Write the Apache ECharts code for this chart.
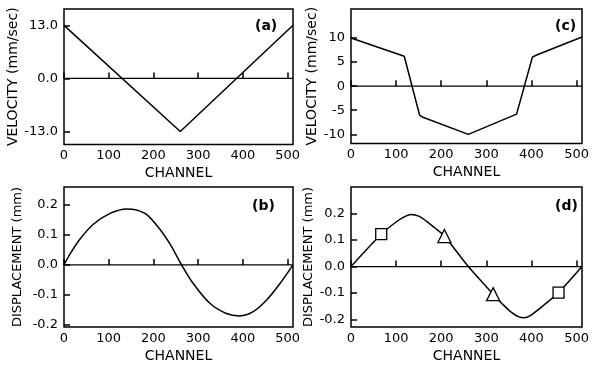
<!DOCTYPE html>
<html>
<head>
<meta charset="utf-8">
<script src="https://cdn.jsdelivr.net/npm/echarts@6/dist/echarts.min.js"></script>
<style>
html,body{margin:0;padding:0;background:#fff;}
#chart{width:592px;height:367px;}
</style>
</head>
<body>
<div id="chart"></div>
<script>
// ---- data ----
var channelTicks = [0, 100, 200, 300, 400, 500];
var zeroChannel = [0, 512];
var zeroValue   = [0, 0];

// (a) velocity, triangular
var aChannel  = [0, 260, 512];
var aVelocity = [13, -13, 13];
var aTicks    = [-13, 0, 13];

// (b) displacement
var bChannel = [0, 15, 35, 65, 103, 140, 160, 185, 214, 237, 263, 289, 326, 363, 393, 423, 453, 483, 512];
var bDisp    = [0, 0.04, 0.085, 0.135, 0.172, 0.187, 0.184, 0.168, 0.12, 0.07, 0, -0.062, -0.128, -0.162, -0.17, -0.156, -0.117, -0.062, 0];
var bTicks   = [-0.2, -0.1, 0, 0.1, 0.2];

// (c) velocity, piecewise
var cChannel  = [0, 118, 152, 158, 260, 367, 402, 410, 512];
var cVelocity = [10, 6.2, -6.0, -6.4, -10, -5.8, 6.0, 6.4, 10.2];
var cTicks    = [-10, -5, 0, 5, 10];

// (d) displacement with markers
var dChannel = [0, 67, 100, 120, 133, 150, 172, 190, 207, 260, 315, 335, 355, 372, 385, 400, 430, 460, 512];
var dDisp    = [0, 0.122, 0.168, 0.189, 0.196, 0.19, 0.165, 0.14, 0.115, 0, -0.104, -0.14, -0.172, -0.19, -0.193, -0.182, -0.142, -0.098, 0];
var dTicks   = [-0.2, -0.1, 0, 0.1, 0.2];
var dSquareChannel = [67, 460];
var dSquareDisp    = [0.122, -0.098];
var dTriChannel    = [207, 315];
var dTriDisp       = [0.115, -0.104];

var panelLabels = ['(a)', '(b)', '(c)', '(d)'];

function zip(xs, ys) { return xs.map(function (x, i) { return [x, ys[i]]; }); }

var FONT = 'DejaVu Sans';
var grids = [
  {left: 64, top: 9, width: 229, height: 135.5},
  {left: 64, top: 187, width: 229, height: 140},
  {left: 351, top: 9, width: 232, height: 134.5},
  {left: 351, top: 187, width: 232, height: 140}
];
grids.forEach(function (g) {
  g.show = true; g.borderColor = '#000'; g.borderWidth = 1.5; g.backgroundColor = 'transparent';
});

function xAxis(i) {
  return {
    type: 'value', gridIndex: i, min: 0, max: 512,
    name: 'CHANNEL', nameLocation: 'middle', nameGap: 22,
    nameTextStyle: {fontFamily: FONT, fontSize: 14, color: '#000'},
    axisLine: {show: false},
    axisTick: {show: true, inside: true, length: 6, customValues: channelTicks, lineStyle: {color: '#000', width: 1.5}},
    axisLabel: {show: true, customValues: channelTicks, margin: 5, fontFamily: FONT, fontSize: 13, color: '#000'},
    splitLine: {show: false}
  };
}
function yAxis(i, name, min, max, ticks, dec, gap, fs) {
  return {
    type: 'value', gridIndex: i, min: min, max: max,
    name: name, nameLocation: 'middle', nameGap: gap,
    nameTextStyle: {fontFamily: FONT, fontSize: fs, color: '#000'},
    axisLine: {show: false},
    axisTick: {show: true, inside: true, length: 6, customValues: ticks, lineStyle: {color: '#000', width: 1.5}},
    axisLabel: {show: true, customValues: ticks, margin: 6, fontFamily: FONT, fontSize: 13, color: '#000',
      formatter: function (v) { return v.toFixed(dec); }},
    splitLine: {show: false}
  };
}

function lineSeries(i, data, smooth, width) {
  return {
    type: 'line', xAxisIndex: i, yAxisIndex: i, data: data,
    smooth: smooth, showSymbol: false, symbol: 'none', silent: true,
    lineStyle: {color: '#000', width: width}, animation: false
  };
}

var labelPos = [
  {left: 255, top: 19}, {left: 252, top: 199}, {left: 555, top: 19}, {left: 555, top: 199}
];

var series = [];
[0, 1, 2, 3].forEach(function (i) {
  series.push(lineSeries(i, zip(zeroChannel, zeroValue), false, 1.2));
});
series.push(lineSeries(0, zip(aChannel, aVelocity), false, 1.5));
series.push(lineSeries(1, zip(bChannel, bDisp), 0.3, 1.5));
series.push(lineSeries(2, zip(cChannel, cVelocity), false, 1.5));
series.push(lineSeries(3, zip(dChannel, dDisp), 0.3, 1.5));
series.push({type: 'scatter', xAxisIndex: 3, yAxisIndex: 3, data: zip(dSquareChannel, dSquareDisp),
  symbol: 'rect', symbolSize: 11, z: 10,
  itemStyle: {color: '#fff', borderColor: '#000', borderWidth: 1.3, opacity: 1}});
series.push({type: 'scatter', xAxisIndex: 3, yAxisIndex: 3, data: zip(dTriChannel, dTriDisp),
  symbol: 'triangle', symbolSize: 13, z: 10,
  itemStyle: {color: '#fff', borderColor: '#000', borderWidth: 1.3, opacity: 1}});

var option = {
  backgroundColor: '#fff',
  animation: false,
  title: panelLabels.map(function (t, i) {
    return {text: t, left: labelPos[i].left, top: labelPos[i].top, padding: 0,
      textStyle: {fontFamily: FONT, fontSize: 14, fontWeight: 'bold', color: '#000'}};
  }),
  grid: grids,
  xAxis: [xAxis(0), xAxis(1), xAxis(2), xAxis(3)],
  yAxis: [
    yAxis(0, 'VELOCITY (mm/sec)', -16.2, 17, aTicks, 1, 40, 14),
    yAxis(1, 'DISPLACEMENT (mm)', -0.207, 0.26, bTicks, 1, 40, 13),
    yAxis(2, 'VELOCITY (mm/sec)', -11.9, 16, cTicks, 0, 32, 14),
    yAxis(3, 'DISPLACEMENT (mm)', -0.228, 0.3, dTicks, 1, 36, 13)
  ],
  series: series
};

var chart = echarts.init(document.getElementById('chart'), null, {renderer: 'canvas'});
chart.setOption(option);
</script>
</body>
</html>
